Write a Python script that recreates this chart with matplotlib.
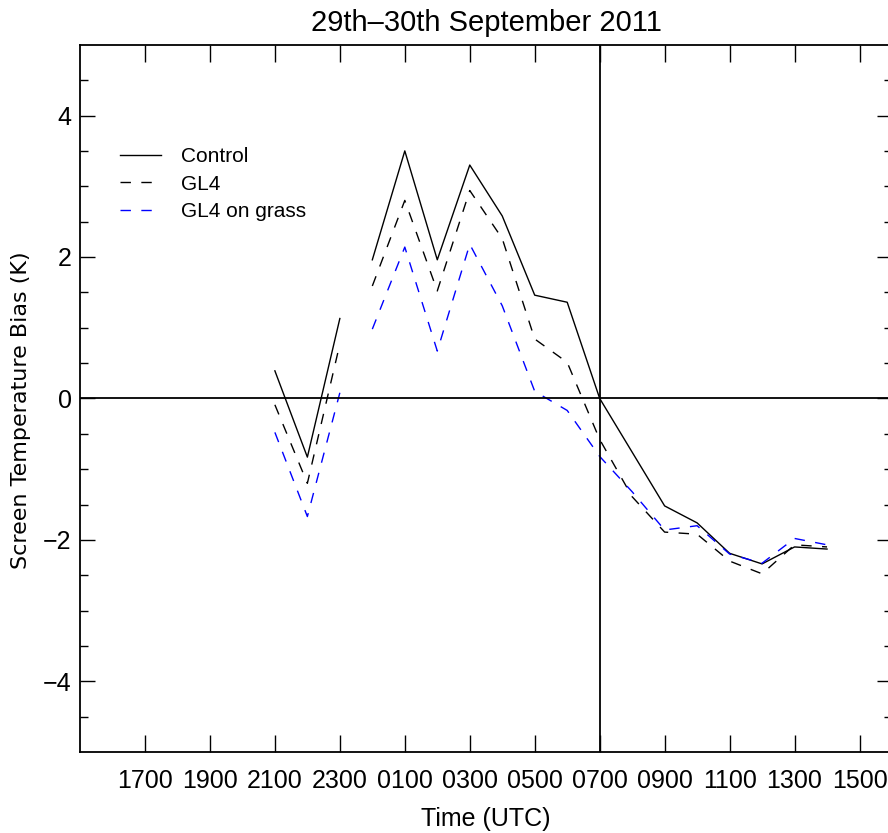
import matplotlib
matplotlib.use("Agg")
import matplotlib.pyplot as plt
import numpy as np

plt.rcParams["font.family"] = ["Liberation Sans", "DejaVu Sans"]

# evening of the 29th (UTC hour) and the 30th (UTC hour)
hours_29 = [21, 22, 23]
hours_30 = [0, 1, 2, 3, 4, 5, 6, 7, 8, 9, 10, 11, 12, 13, 14]

control_29 = [0.39, -0.83, 1.13]
control_30 = [1.96, 3.50, 1.96, 3.30, 2.58, 1.46, 1.36, 0.0, -0.76, -1.52,
              -1.76, -2.19, -2.34, -2.10, -2.13]

gl4_29 = [-0.09, -1.20, 0.77]
gl4_30 = [1.59, 2.80, 1.52, 2.94, 2.26, 0.84, 0.51, -0.58, -1.39, -1.89,
          -1.92, -2.30, -2.48, -2.07, -2.10]

grass_29 = [-0.48, -1.67, 0.08]
grass_30 = [0.98, 2.14, 0.67, 2.18, 1.31, 0.10, -0.17, -0.82, -1.32, -1.86,
            -1.80, -2.20, -2.33, -1.98, -2.07]

xtick_hours = [17, 19, 21, 23, 25, 27, 29, 31, 33, 35, 37, 39]
xtick_labels = ["1700", "1900", "2100", "2300", "0100", "0300", "0500",
                "0700", "0900", "1100", "1300", "1500"]


def main():
    fig = plt.figure(figsize=(8.88, 8.33), dpi=100)
    ax = fig.add_axes([0.0901, 0.0972, 0.9144, 0.849])

    x29 = np.array(hours_29, dtype=float)
    x30 = np.array(hours_30, dtype=float) + 24

    series = [
        (control_29, control_30, "Control", dict(color="black", linestyle="-")),
        (gl4_29, gl4_30, "GL4", dict(color="black", dashes=(7.5, 7.5))),
        (grass_29, grass_30, "GL4 on grass", dict(color="#0000ff", dashes=(7.5, 7.5))),
    ]
    for v29, v30, name, style in series:
        ax.plot(x29, v29, lw=1.0, label=name, **style)
        ax.plot(x30, v30, lw=1.0, **style)

    ax.axhline(0, color="black", lw=1.3)
    ax.axvline(31, color="black", lw=1.3)

    ax.set_xlim(15, 40)
    ax.set_ylim(-5, 5)

    ax.set_xticks(xtick_hours)
    ax.set_xticklabels(xtick_labels)
    ax.set_yticks([-4, -2, 0, 2, 4])
    ax.set_yticks(np.arange(-4.5, 5, 0.5), minor=True)
    ax.tick_params(axis="x", direction="in", top=True, bottom=True,
                   length=12, width=1, labelsize=18, pad=12)
    ax.tick_params(axis="y", which="major", direction="in", left=True,
                   right=True, length=10.5, width=1, labelsize=18, pad=6)
    ax.tick_params(axis="y", which="minor", direction="in", left=True,
                   right=True, length=5.5, width=1)
    ax.tick_params(axis="x", which="minor", bottom=False, top=False)
    for s in ax.spines.values():
        s.set_linewidth(1.3)

    ax.set_title("29th\u201330th September 2011", fontsize=21, pad=10)
    ax.set_xlabel("Time (UTC)", fontsize=18, labelpad=10)
    ax.set_ylabel("Screen Temperature Bias (K)", fontsize=16,
                  family=["DejaVu Sans"])
    ax.yaxis.set_label_coords(-0.06, 0.484)

    ax.legend(loc="upper left", bbox_to_anchor=(0.0495, 0.855), frameon=False,
              fontsize=15, handlelength=1.95, handletextpad=0.95,
              labelspacing=0.4, borderaxespad=0, borderpad=0)

    fig.savefig("out.png", dpi=100)
    plt.close(fig)


if __name__ == "__main__":
    main()
